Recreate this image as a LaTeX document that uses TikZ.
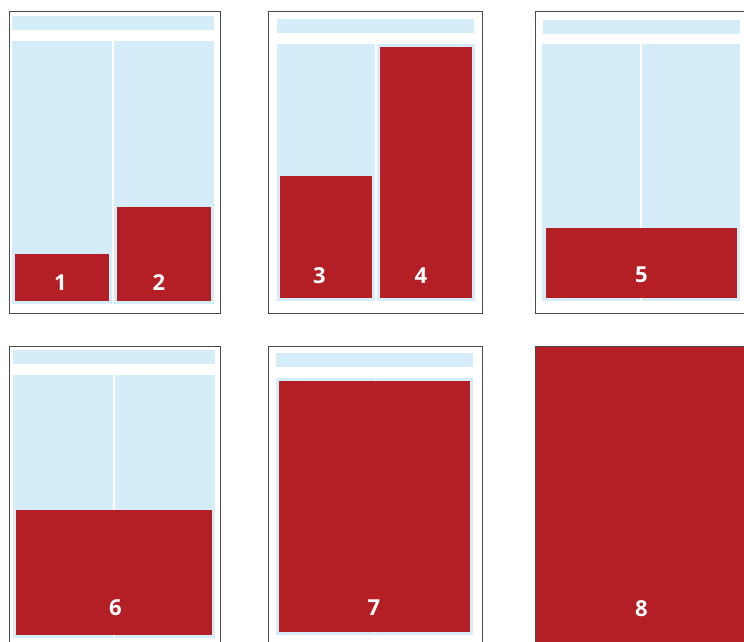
\documentclass[tikz,border=0pt]{standalone}
\usepackage{fontspec}
\setsansfont{Open Sans}
\definecolor{adrot}{HTML}{B41F26}
\definecolor{papierblau}{HTML}{D5ECF9}
\definecolor{rahmengrau}{HTML}{4A4A4A}
\usetikzlibrary{positioning}

\begin{document}
\begin{tikzpicture}[x=1pt, y=-1pt,
    every node/.style={font=\sffamily\bfseries\fontsize{22}{22}\selectfont, text=white}]
        \tikzset{seite/.style={draw=rahmengrau, line width=1pt, fill=white},
                 kopf/.style={fill=papierblau},
                 spalte/.style={fill=papierblau},
                 anzeige/.style={fill=adrot}}
        \useasboundingbox (0,0) rectangle (744,642);
        \clip (0,0) rectangle (744,642);

        % Seite 1: zwei kleine Anzeigen
        \draw[seite]   (9,12)    rectangle (220,313);
        \fill[kopf]    (12,16)   rectangle (214,30);
        \fill[spalte]  (12,41)   rectangle (112,304);
        \fill[spalte]  (114,41)  rectangle (214,304);
        \fill[anzeige] (15,254)  rectangle (109,301);
        \fill[anzeige] (117,207) rectangle (211,301);
        \node (a1) at (60.5,282.5) {1};
        \node (a2) at (159,282.5)  {2};

        % Seite 2
        \draw[seite]   (268,12)  rectangle (482,313);
        \fill[kopf]    (277,19)  rectangle (474,33);
        \fill[spalte]  (277,44)  rectangle (375,301);
        \fill[spalte]  (377,44)  rectangle (475,301);
        \fill[anzeige] (280,176) rectangle (372,298);
        \fill[anzeige] (380,47)  rectangle (472,298);
        \node (a3) at (319.5,275.5) {3};
        \node (a4) at (421,275.5)   {4};

        % Seite 3
        \draw[seite]   (535,12)  rectangle (760,313);
        \fill[kopf]    (543,20)  rectangle (740,34);
        \fill[spalte]  (542,44)  rectangle (640,301);
        \fill[spalte]  (642,44)  rectangle (740,301);
        \fill[anzeige] (546,228) rectangle (737,298);
        \node (a5) at (641.5,275) {5};

        % Seite 4
        \draw[seite]   (9,346)   rectangle (220,660);
        \fill[kopf]    (13,350)  rectangle (215,364);
        \fill[spalte]  (13,375)  rectangle (113,638);
        \fill[spalte]  (115,375) rectangle (215,638);
        \fill[anzeige] (16,510)  rectangle (212,635);
        \node (a6) at (115.5,608) {6};

        % Seite 5
        \draw[seite]   (268,346) rectangle (482,660);
        \fill[kopf]    (276,353) rectangle (473,367);
        \fill[spalte]  (276,378) rectangle (373.5,635);
        \fill[spalte]  (374.5,378) rectangle (473,635);
        \fill[anzeige] (279,381) rectangle (470,632);
        \node (a7) at (374,608) {7};

        % Seite 6: ganzseitig
        \draw[seite, fill=adrot] (535,346) rectangle (760,660);
        \node (a8) at (641.5,608.5) {8};
      \end{tikzpicture}
\end{document}
